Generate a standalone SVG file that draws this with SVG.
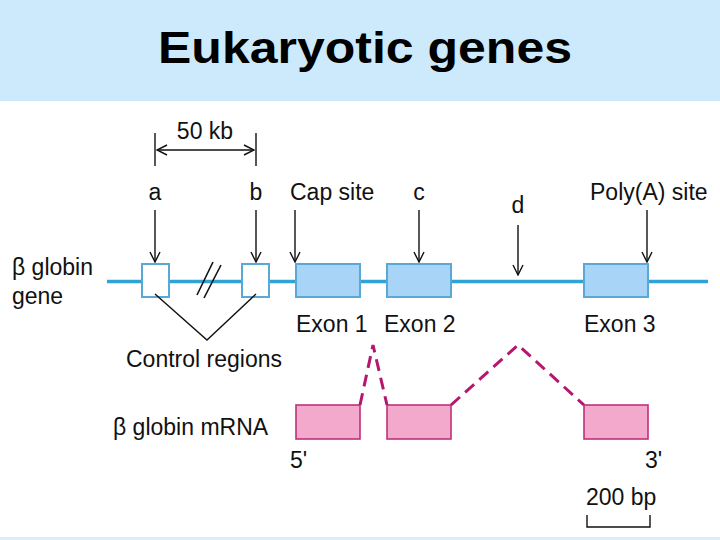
<svg xmlns="http://www.w3.org/2000/svg" width="720" height="540" viewBox="0 0 720 540">
<style>
.t{font-family:"Liberation Sans",Arial,sans-serif;font-size:23px;fill:#111}
.title{font-family:"Liberation Sans",Arial,sans-serif;font-size:44px;font-weight:bold;fill:#000}
.thin{stroke:#111;stroke-width:1.4;fill:none}
.exon{fill:#a8d4f8;stroke:#5aa8d6;stroke-width:2}
.ctrl{fill:#fff;stroke:#5aa8d6;stroke-width:2}
.mrna{fill:#f3a9cc;stroke:#c0307a;stroke-width:1.6}
.splice{stroke:#b5166e;stroke-width:3;fill:none;stroke-dasharray:12 7}
</style>
<defs>
<marker id="ah" viewBox="0 0 12 12" refX="11" refY="6" markerWidth="12" markerHeight="12" markerUnits="userSpaceOnUse" orient="auto-start-reverse">
<path d="M1,1 L11,6 L1,11" fill="none" stroke="#111" stroke-width="1.4"/>
</marker>
</defs>
<rect x="0" y="0" width="720" height="540" fill="#fff"/>
<rect x="0" y="0" width="720" height="101" fill="#cdeafc"/>
<rect x="0" y="537" width="720" height="3" fill="#d8eef8"/>
<text class="title" x="158" y="63" textLength="414" lengthAdjust="spacingAndGlyphs">Eukaryotic genes</text>

<g id="gene-line">
<line x1="107" y1="281.5" x2="708" y2="281.5" stroke="#2fa3d6" stroke-width="3.5"/>
<line x1="197" y1="295" x2="213" y2="262" stroke="#111" stroke-width="1.6"/>
<line x1="204" y1="298" x2="221" y2="265" stroke="#111" stroke-width="1.6"/>
</g>

<g id="control-a"><rect class="ctrl" x="142" y="264" width="27" height="33"/></g>
<g id="control-b"><rect class="ctrl" x="242" y="264" width="27" height="33"/></g>
<g id="exon1"><rect class="exon" x="296" y="264" width="64" height="33"/></g>
<g id="exon2"><rect class="exon" x="387" y="264" width="64" height="33"/></g>
<g id="exon3"><rect class="exon" x="584" y="264" width="64" height="33"/></g>

<g id="mrna1"><rect class="mrna" x="296" y="405" width="64" height="34"/></g>
<g id="mrna2"><rect class="mrna" x="387" y="405" width="64" height="34"/></g>
<g id="mrna3"><rect class="mrna" x="584" y="405" width="64" height="34"/></g>

<g id="connectors">
<line class="thin" x1="155" y1="210" x2="155" y2="262" marker-end="url(#ah)"/>
<line class="thin" x1="256" y1="210" x2="256" y2="262" marker-end="url(#ah)"/>
<line class="thin" x1="295" y1="210" x2="295" y2="262" marker-end="url(#ah)"/>
<line class="thin" x1="419" y1="210" x2="419" y2="262" marker-end="url(#ah)"/>
<line class="thin" x1="518" y1="225" x2="518" y2="275" marker-end="url(#ah)"/>
<line class="thin" x1="647" y1="210" x2="647" y2="262" marker-end="url(#ah)"/>
<line class="thin" x1="155" y1="133" x2="155" y2="166"/>
<line class="thin" x1="256" y1="133" x2="256" y2="166"/>
<line class="thin" x1="157" y1="150" x2="254" y2="150" marker-start="url(#ah)" marker-end="url(#ah)"/>
<polyline class="thin" points="155,294 207,340 256,294"/>
<polyline class="splice" points="360,405 373,345 387,405"/>
<polyline class="splice" points="451,405 518,345 584,405"/>
<polyline class="thin" points="587,515 587,527 650,527 650,515"/>
</g>

<g id="labels">
<text class="t" x="205" y="139" text-anchor="middle">50 kb</text>
<text class="t" x="155" y="200" text-anchor="middle">a</text>
<text class="t" x="256" y="200" text-anchor="middle">b</text>
<text class="t" x="290" y="200">Cap site</text>
<text class="t" x="419" y="200" text-anchor="middle">c</text>
<text class="t" x="518" y="213" text-anchor="middle">d</text>
<text class="t" x="590" y="200">Poly(A) site</text>
<text class="t" x="12" y="275">β globin</text>
<text class="t" x="12" y="304">gene</text>
<text class="t" x="296" y="332">Exon 1</text>
<text class="t" x="384" y="332">Exon 2</text>
<text class="t" x="584" y="332">Exon 3</text>
<text class="t" x="126" y="367">Control regions</text>
<text class="t" x="113" y="435">β globin mRNA</text>
<text class="t" x="290" y="468">5'</text>
<text class="t" x="645" y="468">3'</text>
<text class="t" x="586" y="505">200 bp</text>
</g>
</svg>
